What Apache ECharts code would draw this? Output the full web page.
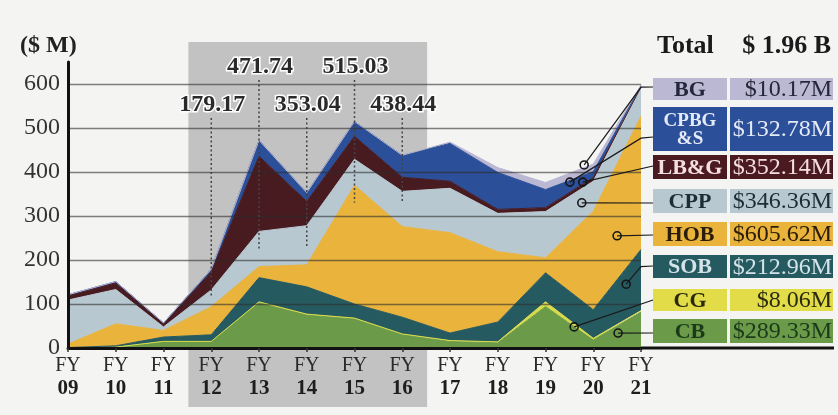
<!DOCTYPE html>
<html>
<head>
<meta charset="utf-8">
<script src="https://cdn.jsdelivr.net/npm/echarts/dist/echarts.min.js"></script>
<style>
html,body{margin:0;padding:0;background:#f4f4f2;}
#c{width:838px;height:415px;}
</style>
</head>
<body>
<div id="c"></div>
<script>
// ---------- data ----------
const categories = ['09','10','11','12','13','14','15','16','17','18','19','20','21'];
const seriesNames = ['CB','CG','SOB','HOB','CPP','LB&G','CPBG&S','BG'];
const cbValues    = [0, 2, 15, 15, 103, 75, 66, 30, 15, 12, 94, 18, 82];
const cgValues    = [0, 0, 0, 0, 2, 2, 2, 2, 2, 2, 11, 4, 3];
const sobValues   = [1, 3, 10, 15, 55, 62, 32, 38, 17, 45, 66, 65, 139];
const hobValues   = [8, 50, 15, 64, 25, 50, 270, 206, 228, 160, 34, 224, 303];
const cppValues   = [100, 78, 8, 38, 80, 89, 59, 80, 101, 87, 105, 68, 63];
const lbgValues   = [10, 15, 7, 41, 171, 55, 52, 32, 16, 9, 9, 8, 3];
const cpbgsValues = [2, 3, 2, 6, 36, 20, 34, 50, 86, 84, 41, 14, 3];
const bgValues    = [0, 0, 0, 0, 0, 0, 0, 0, 3, 11, 16, 17, 2];
const legendLabels = ['BG', 'CPBG\n&S', 'LB&G', 'CPP', 'HOB', 'SOB', 'CG', 'CB'];
const legendTotals = ['$10.17M', '$132.78M', '$352.14M', '$346.36M', '$605.62M', '$212.96M', '$8.06M', '$289.33M'];
const peakYears  = ['12', '13', '14', '15', '16'];
const peakTotals = ['179.17', '471.74', '353.04', '515.03', '438.44'];
const peakLineEnds = [114, 225, 228, 330, 330];
const yTicks = [0, 100, 200, 300, 400, 500, 600];
const totalWord = 'Total';
const totalValue = '$ 1.96 B';
const unitLabel = '($ M)';

// ---------- styles ----------
const FONT = '"Liberation Serif", "Times New Roman", serif';
const areaColors = ['#6b9a48', '#d8db4a', '#265a61', '#e9b33c', '#b8c8d0', '#481b20', '#2b4f98', '#bab8d3'];
const boxColors  = ['#bab8d3', '#2b4f98', '#4a1a20', '#b8c8d0', '#e9b33c', '#265a61', '#e2dc48', '#6b9a48'];
const boxText    = ['#26263a', '#e4eaf7', '#f5dede', '#1d2d35', '#2b1d05', '#d3e3e8', '#2a2a10', '#1b3a1b'];
const seriesValues = [cbValues, cgValues, sobValues, hobValues, cppValues, lbgValues, cpbgsValues, bgValues];

const chart = echarts.init(document.getElementById('c'));

const series = seriesNames.map((n, i) => ({
  name: n,
  type: 'line',
  stack: 'total',
  data: seriesValues[i],
  symbol: 'none',
  silent: true,
  z: 2,
  lineStyle: { width: 1, color: areaColors[i] },
  areaStyle: { color: areaColors[i], opacity: 1 }
}));

const gridColors = yTicks.map(() => 'rgba(45,45,45,0.6)').concat(['rgba(0,0,0,0)']);

chart.setOption({
  backgroundColor: '#f4f4f2',
  animation: false,
  textStyle: { fontFamily: FONT },
  grid: { left: 68, right: 197, top: 62, bottom: 67, containLabel: false, outerBoundsMode: 'none' },
  xAxis: {
    type: 'category',
    data: categories,
    boundaryGap: false,
    z: 4,
    axisLine: { show: true, lineStyle: { color: '#111', width: 3 } },
    axisTick: { show: true, length: 4, lineStyle: { color: '#333', width: 1.5 } },
    axisLabel: {
      margin: 6, interval: 0,
      formatter: v => '{a|FY}\n{b|' + v + '}',
      rich: {
        a: { fontFamily: FONT, fontSize: 20, color: '#2a2a2a', lineHeight: 23 },
        b: { fontFamily: FONT, fontSize: 21, fontWeight: 'bold', color: '#1e1e1e', lineHeight: 23 }
      }
    },
    splitLine: { show: false }
  },
  yAxis: {
    type: 'value', min: 0, max: 650, interval: 100, z: 4,
    axisLine: { show: true, lineStyle: { color: '#111', width: 3 } },
    axisTick: { show: false },
    axisLabel: {
      margin: 8, fontFamily: FONT, fontSize: 24, color: '#333', showMaxLabel: false,
      formatter: v => (yTicks.indexOf(v) >= 0 ? String(v) : '')
    },
    splitLine: { show: true, lineStyle: { color: gridColors, width: 1.4 } }
  },
  series: series
});

// ---------- annotations ----------
const last = categories.length - 1;
function toPx(x, y) {
  const a = chart.convertToPixel({ gridIndex: 0 }, [0, y]);
  const b = chart.convertToPixel({ gridIndex: 0 }, [last, y]);
  return [a[0] + (b[0] - a[0]) * x / last, a[1]];
}
const origin = toPx(0, 0);
const endPt = toPx(last, 0);

const g = [];
// shaded period FY12-FY16
const s0 = toPx(2.5, 0), s1 = toPx(7.5, 0);
g.push({ type: 'rect', z: 1, silent: true, shape: { x: s0[0] + 1, y: 42, width: s1[0] - s0[0], height: 365 }, style: { fill: '#c2c2c2' } });

// extension of x-axis under the legend
g.push({ type: 'line', z: 12, silent: true, shape: { x1: endPt[0], y1: origin[1], x2: 834, y2: origin[1] }, style: { stroke: '#111', lineWidth: 3 } });

// peak totals + dotted guides
const upperRow = { '13': true, '15': true };
peakYears.forEach((yr, i) => {
  const ci = categories.indexOf(yr);
  const up = !!upperRow[yr];
  const ly = up ? 67 : 105;
  const p = toPx(ci, peakLineEnds[i]);
  g.push({ type: 'line', z: 11, silent: true,
    shape: { x1: p[0], y1: up ? 80 : 118, x2: p[0], y2: p[1] },
    style: { stroke: '#444', lineWidth: 1.5, lineDash: [2, 2.5] } });
  g.push({ type: 'text', z: 13, silent: true,
    style: { text: peakTotals[i], x: p[0] + 1, y: ly, font: 'bold 24px ' + FONT,
      fill: '#2a2a2a', stroke: '#ffffff', lineWidth: 3, strokeFirst: true,
      align: 'center', textAlign: 'center', verticalAlign: 'middle', textVerticalAlign: 'middle' } });
});

// header texts
g.push({ type: 'text', z: 13, silent: true, style: { text: unitLabel, x: 20, y: 46, font: 'bold 24px ' + FONT, fill: '#222',
  align: 'left', textAlign: 'left', verticalAlign: 'middle', textVerticalAlign: 'middle' } });
g.push({ type: 'text', z: 13, silent: true, style: { text: totalWord, x: 657, y: 46, font: 'bold 26px ' + FONT, fill: '#1a1a1a',
  align: 'left', textAlign: 'left', verticalAlign: 'middle', textVerticalAlign: 'middle' } });
g.push({ type: 'text', z: 13, silent: true, style: { text: totalValue, x: 831, y: 46, font: 'bold 26px ' + FONT, fill: '#1a1a1a',
  align: 'right', textAlign: 'right', verticalAlign: 'middle', textVerticalAlign: 'middle' } });

// legend table
const rows = [[78, 22], [107, 44], [155, 24], [189, 24], [222, 24], [255, 23], [289, 22], [319, 24]];
rows.forEach((r, i) => {
  g.push({ type: 'rect', z: 12, silent: true, shape: { x: 653, y: r[0], width: 74, height: r[1] }, style: { fill: boxColors[i] } });
  g.push({ type: 'rect', z: 12, silent: true, shape: { x: 730, y: r[0], width: 103, height: r[1] }, style: { fill: boxColors[i] } });
  const two = legendLabels[i].indexOf('\n') >= 0;
  g.push({ type: 'text', z: 13, silent: true, style: { text: legendLabels[i], x: 690, y: r[0] + r[1] / 2 + 1,
    font: 'bold ' + (two ? 19 : 22) + 'px ' + FONT, lineHeight: 18, fill: boxText[i],
    align: 'center', textAlign: 'center', verticalAlign: 'middle', textVerticalAlign: 'middle' } });
  g.push({ type: 'text', z: 13, silent: true, style: { text: legendTotals[i], x: 832, y: r[0] + r[1] / 2 + 1,
    font: '24px ' + FONT, fill: boxText[i],
    align: 'right', textAlign: 'right', verticalAlign: 'middle', textVerticalAlign: 'middle' } });
});

// callout leaders: anchor in (category position, value), optional bend, target y on legend
const callouts = [
  { a: [10.81, 416], bend: [12, 593], ty: 87 },
  { a: [10.51, 377], bend: [12, 477], ty: 137 },
  { a: [10.78, 377], ty: 166 },
  { a: [10.76, 330], ty: 203 },
  { a: [11.50, 255], ty: 235 },
  { a: [11.69, 145], bend: [12, 185], ty: 266 },
  { a: [10.60, 48], ty: 300 },
  { a: [11.52, 34], ty: 333 }
];
callouts.forEach(c => {
  const a = toPx(c.a[0], c.a[1]);
  const pts = [a];
  if (c.bend) pts.push(toPx(c.bend[0], c.bend[1]));
  pts.push([653, c.ty]);
  g.push({ type: 'polyline', z: 11, silent: true, shape: { points: pts }, style: { stroke: '#1a1a1a', lineWidth: 1.2, fill: null } });
  g.push({ type: 'circle', z: 12, silent: true, shape: { cx: a[0], cy: a[1], r: 4 }, style: { fill: 'rgba(0,0,0,0)', stroke: '#151515', lineWidth: 1.6 } });
});

chart.setOption({ graphic: { elements: g } });
</script>
</body>
</html>
